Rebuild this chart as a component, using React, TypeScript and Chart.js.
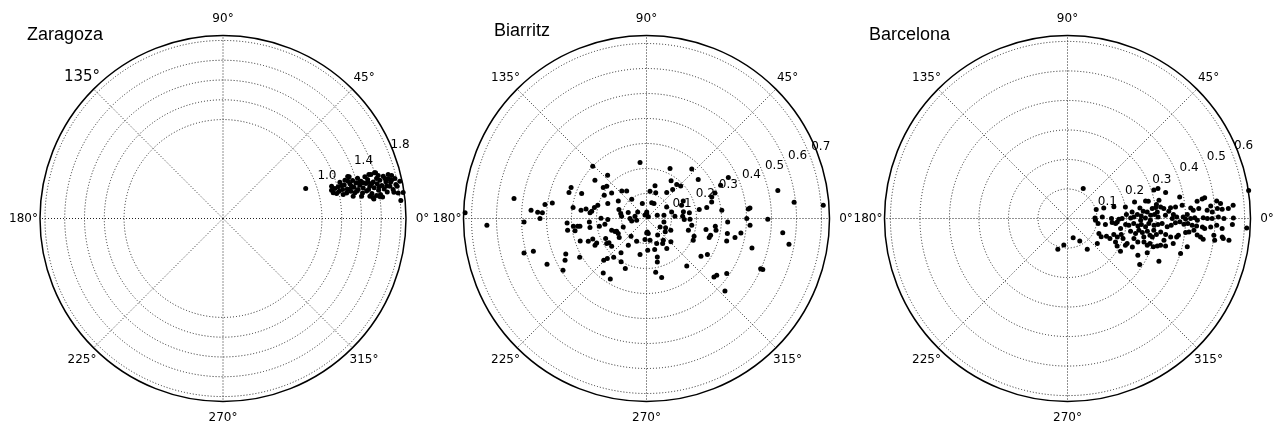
import { useEffect, useRef } from "react";
import { Chart, registerables } from "chart.js";

Chart.register(...registerables);

const W = 1278;
const H = 430;

// Angular grid (degrees, counter-clockwise from east)
const angleTicks = [0, 45, 90, 135, 180, 225, 270, 315];
const angleTickLabels = ["0°", "45°", "90°", "135°", "180°", "225°", "270°", "315°"];

// ---- Zaragoza: direction (deg) and magnitude ----
const zaragozaTheta = [
  19.9, 16.5, 14.6, 15.0, 15.4, 13.2, 17.2, 13.6, 15.4, 17.4, 11.7, 13.4, 18.3, 15.3, 12.0, 16.3,
  13.4, 11.0, 15.0, 16.7, 12.1, 13.7, 15.1, 10.4, 12.3, 16.4, 13.8, 15.1, 11.3, 12.4, 16.6, 9.5,
  13.7, 11.5, 16.7, 14.6, 12.7, 10.3, 13.7, 8.7, 11.7, 14.8, 10.4, 12.7, 9.2, 13.5, 10.9, 12.8,
  9.7, 13.1, 11.1, 8.3, 5.8, 7.4, 8.6, 9.1, 9.7, 11.3, 12.4, 14.1, 11.5, 13.2, 11.5, 11.2,
  12.2, 10.5, 8.7, 8.5, 7.7, 10.8, 14.9, 16.6, 15.5, 13.9, 14.9, 15.5, 14.0, 14.3, 12.9, 13.1,
  14.3, 11.9, 8.2, 16.8, 16.8, 18.6, 8.0, 8.0,
];
const zaragozaR = [
  0.889, 1.145, 1.134, 1.171, 1.208, 1.207, 1.237, 1.244, 1.271, 1.292, 1.276, 1.291, 1.343, 1.33, 1.322, 1.365,
  1.361, 1.358, 1.391, 1.42, 1.398, 1.424, 1.444, 1.434, 1.451, 1.495, 1.487, 1.514, 1.501, 1.52, 1.56, 1.526,
  1.563, 1.56, 1.61, 1.604, 1.598, 1.599, 1.632, 1.611, 1.64, 1.675, 1.657, 1.688, 1.682, 1.721, 1.718, 1.747,
  1.745, 1.784, 1.781, 1.79, 1.807, 1.538, 1.502, 1.419, 1.335, 1.239, 1.176, 1.34, 1.379, 1.543, 1.611, 1.686,
  1.733, 1.791, 1.748, 1.57, 1.628, 1.478, 1.425, 1.32, 1.244, 1.686, 1.728, 1.628, 1.513, 1.462, 1.316, 1.144,
  1.759, 1.827, 1.84, 1.54, 1.6, 1.33, 1.53, 1.6,
];
const zaragozaRMax = 1.85;
const zaragozaRings = [1.0, 1.2, 1.4, 1.6, 1.8];
const zaragozaRingLabels = ["1.0", "", "1.4", "", "1.8"];

// ---- Biarritz ----
const biarritzTheta = [
  135.8, 96.6, 131.9, 143.4, 157.7, 161.5, 158.9, 144.3, 140.9, 143.7, 151.1, 131.9, 125.7, 127.5, 148.0, 158.9,
  171.4, 182.4, 178.2, 175.9, 176.7, 176.9, 172.1, 170.6, 180.0, 181.6, 171.5, 172.8, 171.0, 174.3, 172.4, 168.1,
  164.8, 179.6, 181.5, 161.9, 169.0, 174.7, 161.8, 180.0, 189.2, 168.7, 143.1, 189.8, 183.2, 188.4, 186.0, 186.4,
  186.6, 189.8, 183.4, 189.1, 189.3, 187.8, 198.6, 202.4, 203.1, 208.0, 214.9, 199.9, 228.8, 246.6, 235.7, 198.7,
  201.3, 200.8, 207.4, 206.1, 206.1, 212.1, 213.0, 218.5, 195.7, 196.1, 204.7, 203.8, 207.1, 211.8, 210.1, 224.3,
  225.6, 231.5, 239.1, 229.7, 233.4, 239.6, 247.0, 259.8,
  64.8, 47.5, 37.0, 56.9, 48.4, 43.6, 47.9, 52.2, 75.4, 70.2, 26.6, 24.2, 20.5, 18.3, 14.3, 10.4,
  9.7, 6.3, 25.6, 20.7, 10.2, 3.6, 7.5, 359.1, 358.5, 4.6, 29.9, 63.4, 71.6, 17.0, 10.7, 41.6,
  12.0, 6.3, 4.3, 5.8, 5.4, 0.0, 359.7, 357.6, 356.3, 354.0, 349.8, 344.4, 351.3, 347.9, 349.5, 344.4,
  353.6, 350.4, 345.4, 343.2, 349.5, 344.4, 339.6, 335.1, 334.2, 333.9, 349.0, 324.5, 303.8, 292.2, 273.4, 265.9,
  279.2, 307.7, 302.9, 304.0, 316.3, 284.8, 285.7, 284.0, 279.7, 284.4, 310.3, 325.3, 329.4, 319.1, 321.1, 325.6,
  317.3, 336.2, 336.3, 270.8,
  114.0, 82.7, 14.7, 351.6, 88.0, 328.0, 272.2, 276.8, 88.0, 105.6,
];
const biarritzR = [
  0.3, 0.225, 0.233, 0.257, 0.326, 0.327, 0.278, 0.213, 0.205, 0.173, 0.193, 0.148, 0.136, 0.097, 0.133, 0.166,
  0.536, 0.639, 0.726, 0.463, 0.436, 0.417, 0.41, 0.382, 0.426, 0.49, 0.297, 0.264, 0.245, 0.227, 0.221, 0.213,
  0.202, 0.182, 0.155, 0.116, 0.105, 0.1, 0.077, 0.066, 0.06, 0.047, 0.044, 0.04, 0.318, 0.319, 0.294, 0.277,
  0.268, 0.29, 0.229, 0.229, 0.191, 0.168, 0.147, 0.136, 0.13, 0.128, 0.133, 0.099, 0.094, 0.099, 0.129, 0.28,
  0.25, 0.23, 0.232, 0.222, 0.182, 0.188, 0.179, 0.178, 0.509, 0.471, 0.438, 0.353, 0.366, 0.393, 0.309, 0.239,
  0.224, 0.278, 0.282, 0.203, 0.171, 0.201, 0.217, 0.146,
  0.221, 0.268, 0.259, 0.18, 0.182, 0.189, 0.156, 0.132, 0.135, 0.109, 0.366, 0.325, 0.292, 0.275, 0.269, 0.245,
  0.214, 0.303, 0.163, 0.15, 0.15, 0.145, 0.173, 0.174, 0.151, 0.114, 0.093, 0.067, 0.066, 0.045, 0.071, 0.01,
  0.537, 0.594, 0.709, 0.416, 0.409, 0.401, 0.485, 0.325, 0.415, 0.548, 0.579, 0.438, 0.382, 0.362, 0.329, 0.333,
  0.277, 0.282, 0.265, 0.262, 0.242, 0.174, 0.203, 0.206, 0.108, 0.085, 0.071, 0.092, 0.08, 0.108, 0.054, 0.084,
  0.088, 0.11, 0.119, 0.145, 0.135, 0.128, 0.16, 0.179, 0.218, 0.244, 0.249, 0.265, 0.283, 0.357, 0.361, 0.389,
  0.427, 0.499, 0.508, 0.058,
  0.015, 0.11, 0.104, 0.183, 0.026, 0.064, 0.127, 0.06, 0.02, 0.062,
];
const biarritzRMax = 0.732;
const biarritzRings = [0.1, 0.2, 0.3, 0.4, 0.5, 0.6, 0.7];
const biarritzRingLabels = ["0.1", "0.2", "0.3", "0.4", "0.5", "0.6", "0.7"];

// ---- Barcelona ----
const barcelonaTheta = [
  62.4, 18.4, 14.9, 18.2, 14.1, 13.9, 12.7, 12.1, 11.3, 8.9, 10.9, 7.6, 8.2, 8.6, 6.7, 5.6,
  4.6, 3.6, 6.6, 17.4, 16.3, 11.3, 5.8, 8.3, 5.5, 4.7, 6.7, 7.1, 7.1, 5.9, 5.9, 6.1,
  4.9, 3.8, 4.4, 3.4, 5.0, 3.8, 3.4, 2.6, 1.9, 1.3, 2.6, 0.0, 359.2, 0.0, 0.5, 1.4,
  3.3, 2.0, 0.4, 2.3, 2.6, 1.0, 1.9, 2.2, 0.8, 0.8, 359.7, 0.0, 0.3, 359.2, 0.3, 0.0,
  0.0, 0.6, 0.0, 0.2, 357.0, 350.7, 351.0, 354.9, 356.1, 354.1, 353.8, 355.7, 354.0, 355.3, 353.9, 356.5,
  355.6, 356.2, 357.0, 355.2, 356.3, 357.7, 358.3, 357.2, 357.6, 356.9, 356.7, 356.4, 355.8, 356.6, 357.4, 356.3,
  357.9, 334.4, 331.4, 335.6, 334.7, 340.9, 339.7, 343.4, 340.2, 348.6, 347.6, 350.7, 349.4, 350.9, 348.5, 347.7,
  349.8, 351.8, 350.7, 349.9, 350.4, 351.4, 353.2, 353.7, 352.1, 351.3, 353.5, 351.6, 353.2, 352.7, 352.3, 252.5,
  262.1, 286.4, 298.5, 302.7, 319.9, 334.0, 331.1, 328.3, 335.3, 337.3, 336.3, 341.6, 343.0, 341.5, 343.1, 341.7,
  343.0, 344.0, 344.4, 346.7, 346.7, 342.8, 336.7, 332.4, 327.5, 334.9, 3.9, 354.1, 349.3, 343.2, 346.4, 352.3,
  347.3, 354.7, 352.7, 0.0, 358.8, 358.7, 4.2, 4.1, 356.5, 8.8,
];
const barcelonaR = [
  0.115, 0.323, 0.344, 0.308, 0.162, 0.234, 0.271, 0.28, 0.316, 0.305, 0.387, 0.443, 0.461, 0.47, 0.509, 0.521,
  0.563, 0.546, 0.391, 0.102, 0.128, 0.2, 0.22, 0.248, 0.258, 0.271, 0.289, 0.301, 0.318, 0.328, 0.351, 0.368,
  0.419, 0.427, 0.446, 0.474, 0.487, 0.509, 0.525, 0.491, 0.406, 0.093, 0.118, 0.149, 0.174, 0.185, 0.214, 0.225,
  0.237, 0.25, 0.264, 0.282, 0.295, 0.307, 0.332, 0.359, 0.37, 0.392, 0.4, 0.417, 0.431, 0.44, 0.46, 0.474,
  0.49, 0.511, 0.53, 0.562, 0.608, 0.105, 0.13, 0.152, 0.169, 0.198, 0.209, 0.225, 0.24, 0.251, 0.266, 0.276,
  0.294, 0.307, 0.321, 0.339, 0.352, 0.366, 0.381, 0.395, 0.408, 0.423, 0.438, 0.458, 0.466, 0.486, 0.506, 0.525,
  0.559, 0.118, 0.13, 0.145, 0.159, 0.166, 0.18, 0.19, 0.2, 0.218, 0.236, 0.245, 0.258, 0.274, 0.285, 0.294,
  0.306, 0.319, 0.337, 0.355, 0.375, 0.38, 0.403, 0.414, 0.455, 0.465, 0.499, 0.504, 0.528, 0.532, 0.552, 0.109,
  0.091, 0.068, 0.087, 0.124, 0.132, 0.181, 0.192, 0.211, 0.216, 0.219, 0.24, 0.251, 0.271, 0.285, 0.292, 0.306,
  0.318, 0.328, 0.345, 0.368, 0.417, 0.401, 0.294, 0.269, 0.29, 0.342, 0.2, 0.164, 0.183, 0.235, 0.266, 0.295,
  0.335, 0.43, 0.443, 0.355, 0.281, 0.248, 0.305, 0.344, 0.095, 0.621,
];
const barcelonaRMax = 0.62;
const barcelonaRings = [0.1, 0.2, 0.3, 0.4, 0.5, 0.6];
const barcelonaRingLabels = ["0.1", "0.2", "0.3", "0.4", "0.5", "0.6"];

type Panel = {
  title: string;
  theta: number[];
  r: number[];
  rMax: number;
  rings: number[];
  ringLabels: string[];
};

const panels: Panel[] = [
  { title: "Zaragoza", theta: zaragozaTheta, r: zaragozaR, rMax: zaragozaRMax, rings: zaragozaRings, ringLabels: zaragozaRingLabels },
  { title: "Biarritz", theta: biarritzTheta, r: biarritzR, rMax: biarritzRMax, rings: biarritzRings, ringLabels: biarritzRingLabels },
  { title: "Barcelona", theta: barcelonaTheta, r: barcelonaR, rMax: barcelonaRMax, rings: barcelonaRings, ringLabels: barcelonaRingLabels },
];

// Placement of each polar axes on the page (pixels)
const frames = [
  { cx: 223, cy: 218.5, R: 183, titleX: 27, titleY: 40, bigAngle: 135 },
  { cx: 646.5, cy: 218.5, R: 183, titleX: 494, titleY: 36, bigAngle: -1 },
  { cx: 1067.5, cy: 218.5, R: 183, titleX: 869, titleY: 40, bigAngle: -1 },
];

const TICK_FONT = '"DejaVu Sans", sans-serif';
const TITLE_FONT = '18px "Liberation Sans", Arial, sans-serif';
const RING_LABEL_ANGLE = 22.5;
const ANGLE_LABEL_FRAC = 1.09;

function polarFrame(panel: Panel, frame: (typeof frames)[number]) {
  const geometry = (chart: any) => {
    const xs = chart.scales.x;
    const ys = chart.scales.y;
    const cx = xs.getPixelForValue(0);
    const cy = ys.getPixelForValue(0);
    const R = xs.getPixelForValue(panel.rMax) - cx;
    const rad = (v: number) => xs.getPixelForValue(v) - cx;
    return { cx, cy, R, rad };
  };
  return {
    id: "polarFrame",
    beforeDatasetsDraw(chart: any) {
      const { ctx } = chart;
      const { cx, cy, R, rad } = geometry(chart);
      ctx.save();
      ctx.strokeStyle = "#222";
      ctx.lineWidth = 1;
      ctx.setLineDash([1, 2]);
      panel.rings.forEach((v) => {
        ctx.beginPath();
        ctx.arc(cx, cy, rad(v), 0, Math.PI * 2);
        ctx.stroke();
      });
      angleTicks.forEach((a) => {
        const t = (a * Math.PI) / 180;
        ctx.beginPath();
        ctx.moveTo(cx, cy);
        ctx.lineTo(cx + R * Math.cos(t), cy - R * Math.sin(t));
        ctx.stroke();
      });
      ctx.restore();
    },
    afterDatasetsDraw(chart: any) {
      const { ctx } = chart;
      const { cx, cy, R, rad } = geometry(chart);
      ctx.save();
      // outer boundary
      ctx.strokeStyle = "#000";
      ctx.lineWidth = 1.5;
      ctx.setLineDash([]);
      ctx.beginPath();
      ctx.arc(cx, cy, R, 0, Math.PI * 2);
      ctx.stroke();

      ctx.fillStyle = "#000";
      // angle labels
      ctx.textAlign = "center";
      ctx.textBaseline = "middle";
      angleTicks.forEach((a, i) => {
        const t = (a * Math.PI) / 180;
        const size = a === frame.bigAngle ? 15 : 12;
        ctx.font = `${size}px ${TICK_FONT}`;
        const lr = ANGLE_LABEL_FRAC * R;
        ctx.fillText(angleTickLabels[i], cx + lr * Math.cos(t), cy - lr * Math.sin(t));
      });
      // radial labels
      ctx.font = `12px ${TICK_FONT}`;
      ctx.textAlign = "left";
      const tl = (RING_LABEL_ANGLE * Math.PI) / 180;
      panel.rings.forEach((v, i) => {
        const label = panel.ringLabels[i];
        if (!label) return;
        const d = rad(v);
        ctx.fillText(label, cx + d * Math.cos(tl) + 3, cy - d * Math.sin(tl) - 5);
      });
      // title
      ctx.font = TITLE_FONT;
      ctx.textBaseline = "alphabetic";
      ctx.fillText(panel.title, frame.titleX, frame.titleY);
      ctx.restore();
    },
  };
}

export default function App() {
  const canvases = useRef<(HTMLCanvasElement | null)[]>([]);

  useEffect(() => {
    const charts = panels.map((panel, i) => {
      const frame = frames[i];
      const points = panel.theta.map((deg, k) => {
        const t = (deg * Math.PI) / 180;
        return { x: panel.r[k] * Math.cos(t), y: panel.r[k] * Math.sin(t) };
      });
      return new Chart(canvases.current[i] as HTMLCanvasElement, {
        type: "scatter",
        data: {
          datasets: [
            {
              data: points,
              pointRadius: 2.5,
              pointHoverRadius: 2.5,
              pointBackgroundColor: "#000",
              pointBorderWidth: 0,
              borderWidth: 0,
              clip: false as any,
            },
          ],
        },
        options: {
          responsive: false,
          animation: false,
          events: [],
          layout: {
            padding: {
              left: frame.cx - frame.R,
              right: W - frame.cx - frame.R,
              top: frame.cy - frame.R,
              bottom: H - frame.cy - frame.R,
            },
          },
          scales: {
            x: { type: "linear", min: -panel.rMax, max: panel.rMax, display: false },
            y: { type: "linear", min: -panel.rMax, max: panel.rMax, display: false },
          },
          plugins: { legend: { display: false }, tooltip: { enabled: false } },
        },
        plugins: [polarFrame(panel, frame)],
      });
    });
    return () => charts.forEach((c) => c.destroy());
  }, []);

  return (
    <div style={{ position: "absolute", left: 0, top: 0, width: W, height: H, background: "#fff" }}>
      {panels.map((p, i) => (
        <canvas
          key={p.title}
          ref={(el) => {
            canvases.current[i] = el;
          }}
          width={W}
          height={H}
          style={{ position: "absolute", left: 0, top: 0, width: W, height: H }}
        />
      ))}
    </div>
  );
}
